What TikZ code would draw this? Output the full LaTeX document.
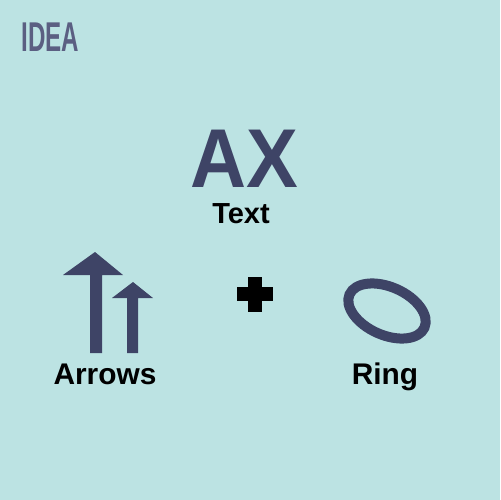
\documentclass[tikz,border=0pt]{standalone}
\usepackage{fontspec}
\setmainfont{Liberation Sans}
\definecolor{bg}{HTML}{BCE3E3}
\definecolor{ink}{HTML}{3E4466}
\definecolor{idea}{HTML}{5B5F82}
\begin{document}
\begin{tikzpicture}[x=0.02cm,y=-0.02cm,
  lbl/.style={inner sep=0pt,anchor=base,font=\fontsize{17}{19}\selectfont\bfseries,text=black},
  shp/.style={fill=ink,draw=none}]
\fill[bg] (0,0) rectangle (500,500);
\useasboundingbox (0,0) rectangle (500,500);
% title
\node[inner sep=0pt,anchor=base west,text=idea] (title) at (21,52)
  {\scalebox{0.58}[1]{\fontsize{23.7}{26}\selectfont\bfseries IDEA}};
% AX
\node[inner sep=0pt,anchor=base,text=ink,text depth=0pt] (ax) at (244,187)
  {\scalebox{0.93}[1]{\fontsize{47.5}{50}\selectfont\bfseries AX}};
\node[lbl,font=\fontsize{16.5}{18}\selectfont\bfseries] (text) at (241,223) {Text};
% arrows
\fill[shp] (95,252) -- (123,275) -- (102,275) -- (102,353) -- (90,353) -- (90,275) -- (63,275) -- cycle;
\fill[shp] (133,282) -- (153,298) -- (138,298) -- (138,353) -- (127,353) -- (127,298) -- (112,298) -- cycle;
\node[lbl] (arrows) at (105,384) {Arrows};
% plus
\fill[black] (248,277) rectangle (262,312);
\fill[black] (237,287) rectangle (273,301);
% ring
\draw[ink,line width=0.2cm,rotate around={-24:(387,311)}] (387,311) ellipse [x radius=41,y radius=24];
\node[lbl] (ring) at (385,384) {Ring};
\end{tikzpicture}
\end{document}
